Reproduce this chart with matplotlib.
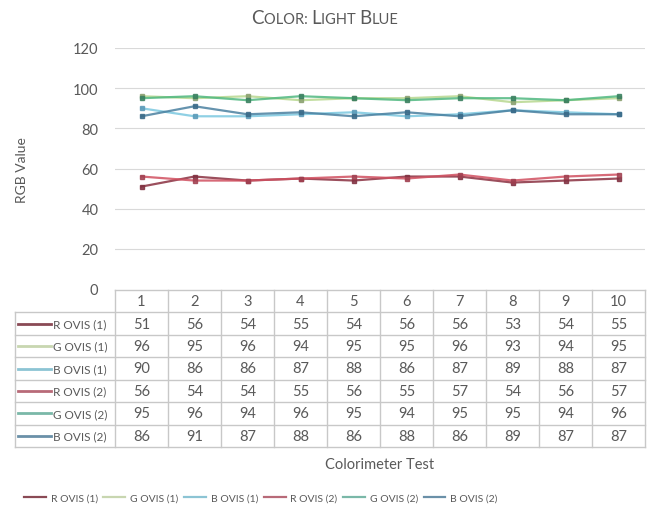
import matplotlib
matplotlib.use("Agg")
import matplotlib.pyplot as plt
from matplotlib.lines import Line2D

tests = [1, 2, 3, 4, 5, 6, 7, 8, 9, 10]
series_names = ["R OVIS (1)", "G OVIS (1)", "B OVIS (1)", "R OVIS (2)", "G OVIS (2)", "B OVIS (2)"]
r_ovis_1 = [51, 56, 54, 55, 54, 56, 56, 53, 54, 55]
g_ovis_1 = [96, 95, 96, 94, 95, 95, 96, 93, 94, 95]
b_ovis_1 = [90, 86, 86, 87, 88, 86, 87, 89, 88, 87]
r_ovis_2 = [56, 54, 54, 55, 56, 55, 57, 54, 56, 57]
g_ovis_2 = [95, 96, 94, 96, 95, 94, 95, 95, 94, 96]
b_ovis_2 = [86, 91, 87, 88, 86, 88, 86, 89, 87, 87]
all_series = [r_ovis_1, g_ovis_1, b_ovis_1, r_ovis_2, g_ovis_2, b_ovis_2]
yticks = [0, 20, 40, 60, 80, 100, 120]

line_colors = ["#8a3040", "#b8d890", "#7cc8e0", "#d05060", "#50b880", "#4a80a0"]
legend_colors = ["#8a4a55", "#c8d6b0", "#8cc4d4", "#b86a78", "#7ab8a8", "#6a90a8"]
marker_colors = ["#803040", "#8aa070", "#5a9ab8", "#a04050", "#3a8060", "#3a6a88"]

plt.rcParams['font.family'] = ['Lato', 'DejaVu Sans']
txt = "#595959"
grid = "#d9d9d9"

W, H = 647, 510
fig = plt.figure(figsize=(W / 100, H / 100), dpi=100)

def fx(px):
    return px / W

def fy(py):
    return 1 - py / H

x0, x1 = 115, 645
ax = fig.add_axes([fx(x0), fy(290), fx(x1) - fx(x0), fy(49) - fy(290)])
ax.set_xlim(0.5, 10.5)
ax.set_ylim(0, 120)
for s in ax.spines.values():
    s.set_visible(False)
ax.set_xticks([])
ax.set_yticks(yticks)
ax.tick_params(axis='y', length=0, pad=12, labelsize=10.5, labelcolor=txt)
for t in yticks[1:]:
    ax.axhline(t, color=grid, lw=0.8, zorder=0)
for vals, lc, mc in zip(all_series, line_colors, marker_colors):
    ax.plot(tests, vals, color=lc, lw=1.6, marker='s', ms=3.5, mfc=mc, mec=mc, alpha=0.85)
fig.text(fx(22), fy(170), "RGB Value", rotation=90, ha='center', va='center', fontsize=10, color=txt)

# table axes
tab = fig.add_axes([fx(x0), fy(448), fx(x1) - fx(x0), fy(291) - fy(448)])
tab.set_xlim(0.5, 10.5)
tab.set_ylim(7, 0)
tab.axis('off')
colw = (x1 - x0) / 10.0
left = 0.5 - (x0 - 15) / colw
tc = "#c8c8c8"
tab.plot([0.5, 10.5], [0, 0], color=tc, lw=1, clip_on=False)
for r in range(1, 8):
    tab.plot([left, 10.5], [r, r], color=tc, lw=1, clip_on=False)
tab.plot([left, left], [1, 7], color=tc, lw=1, clip_on=False)
for c in range(11):
    tab.plot([0.5 + c, 0.5 + c], [0, 7], color=tc, lw=1, clip_on=False)
for t in tests:
    tab.text(t, 0.5, str(t), ha='center', va='center', fontsize=10.5, color=txt)
for r, (vals, name, lgc) in enumerate(zip(all_series, series_names, legend_colors)):
    y = r + 1.5
    for t, v in zip(tests, vals):
        tab.text(t, y, str(v), ha='center', va='center', fontsize=10.5, color=txt)
    tab.plot([left + 3 / colw, left + 36 / colw], [y, y], color=lgc, lw=2, clip_on=False)
    tab.text(left + 38 / colw, y, name, ha='left', va='center', fontsize=8.5, color=txt)

fig.text(fx(380), fy(465), "Colorimeter Test", ha='center', va='center', fontsize=10.5, color=txt)

handles = [Line2D([0], [0], color=c, lw=1.6) for c in legend_colors]
fig.legend(handles, series_names, loc='center left', bbox_to_anchor=(fx(24), fy(499)), ncol=6,
           frameon=False, fontsize=7.5, labelcolor=txt, handlelength=2.1, columnspacing=0.55,
           handletextpad=0.45, borderpad=0, borderaxespad=0)

pieces = [("C", 13.5), ("OLOR: ", 10.5), ("L", 13.5), ("IGHT ", 10.5), ("B", 13.5), ("LUE", 10.5)]
renderer = fig.canvas.get_renderer()
texts = []
total = 0
for s, sz in pieces:
    t = fig.text(0, fy(24), s, fontsize=sz, color=txt, ha='left', va='baseline')
    bb = t.get_window_extent(renderer=renderer)
    texts.append((t, bb.width))
    total += bb.width
cx = fx(325) * W - total / 2
for t, w in texts:
    t.set_x(cx / W)
    cx += w

fig.savefig("out.png", dpi=100)
